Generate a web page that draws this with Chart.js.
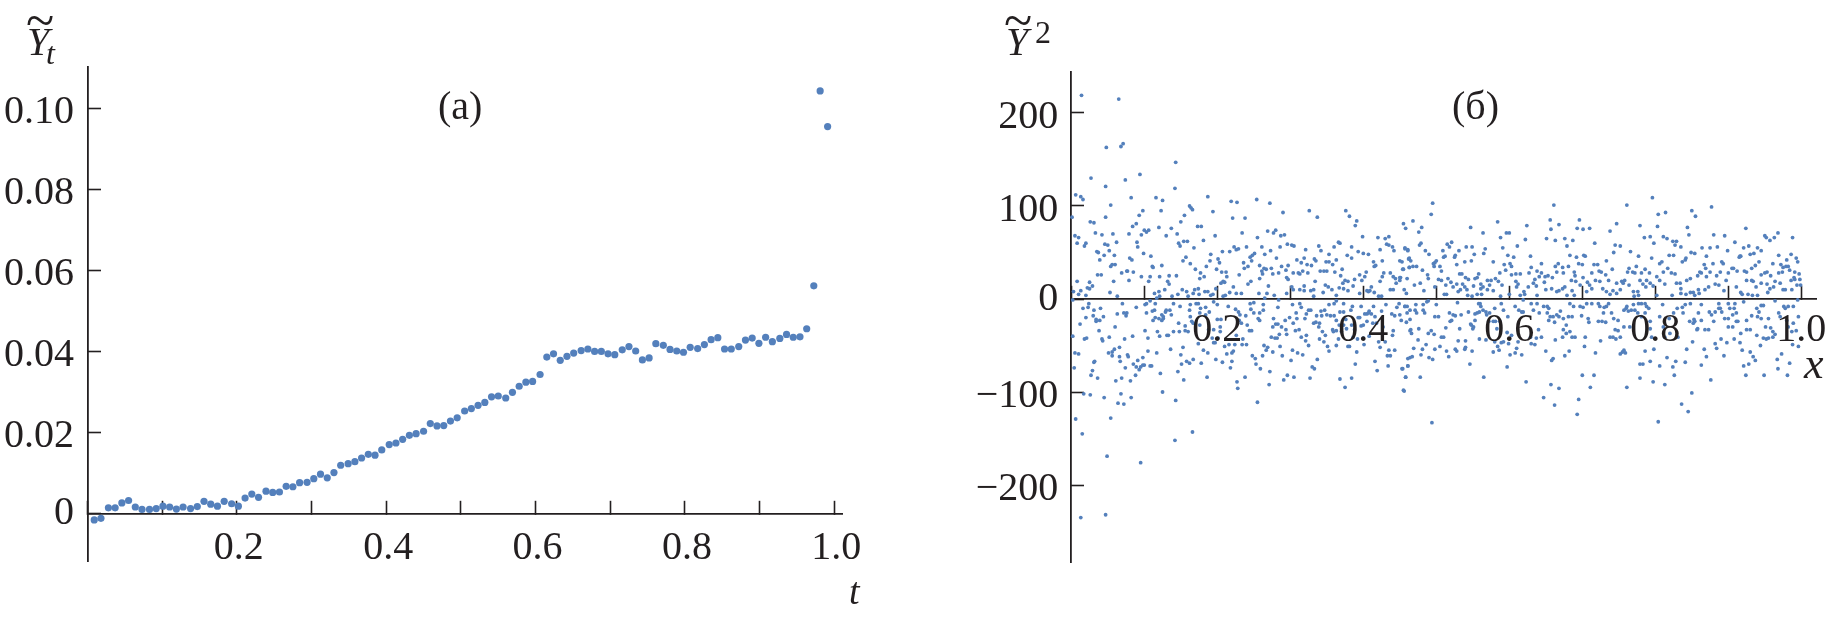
<!DOCTYPE html>
<html>
<head>
<meta charset="utf-8">
<title>Y tilde charts</title>
<script src="https://cdn.jsdelivr.net/npm/chart.js@4"></script>
<style>
    html, body { margin: 0; padding: 0; background: #fff; }
    canvas { position: absolute; top: 0; }
</style>
</head>
<body>
<canvas id="panelA" style="left:0"></canvas>
<canvas id="panelB" style="left:950px"></canvas>
<script>
// panel (a) values
var trendT = [.009,.018,.028,.037,.046,.055,.064,.073,.083,.092,.101,.110,.119,.128,.138,.147,.156,.165,.174,.183,.193,.202,.211,.220,.229,.239,.248,.257,.266,.275,.284,.294,.303,.312,.321,.330,.339,.349,.358,.367,.376,.385,.394,.404,.413,.422,.431,.440,.450,.459,.468,.477,.486,.495,.505,.514,.523,.532,.541,.550,.560,.569,.578,.587,.596,.606,.615,.624,.633,.642,.651,.661,.670,.679,.688,.697,.706,.716,.725,.734,.743,.752,.761,.771,.780,.789,.798,.807,.817,.826,.835,.844,.853,.862,.872,.881,.890,.899,.908,.917,.927,.936,.945,.954,.963,.9725,.981,.991];
var trendY = [-.0016,-.0012,.0014,.0014,.0026,.0032,.0016,.0010,.0010,.0012,.0018,.0016,.0011,.0016,.0012,.0017,.0030,.0023,.0018,.0030,.0024,.0018,.0038,.0048,.0040,.0055,.0052,.0053,.0067,.0066,.0076,.0077,.0086,.0097,.0088,.0101,.0119,.0123,.0128,.0137,.0146,.0144,.0157,.0170,.0174,.0183,.0193,.0197,.0203,.0222,.0216,.0217,.0228,.0236,
    .0253,.0259,.0267,.0274,.0288,.0290,.0285,.0299,.0314,.0324,.0326,.0343,.0386,.0394,.0378,.0388,.0396,.0402,.0406,.0400,.0400,.0394,.0392,.0404,.0412,.0401,.0379,.0384,.0419,.0415,.0405,.0401,.0398,.0410,.0407,.0417,.0429,.0434,.0406,.0406,.0412,.0428,.0433,.0420,.0435,.0424,.0432,.0442,.0435,.0436,.0456,.0562,.1043,.0955];

// panel (b) points as [x, y], estimated by eye, split by part of the plot
var scatterLeftUpper = [[.014,219],[.065,215],[.048,163],[.068,164],[.071,167],[.143,147],[.142,119],[.027,130],[.047,121],[.094,134],[.074,128],[.006,112],[.013,110],[.016,107],[.054,101],[.047,88],[.026,83],[.031,82],[.033,71],[.042,69],[.057,70],[.005,68],[.010,66],[.008,60],[.020,60],[.018,57],[.001,88],[.046,59],[.050,58],[.062,61],[.052,52],[.035,51],[.037,50],[.045,47],[.059,47],[.039,42],[.054,35],[.056,37],[.060,37],[.069,28],[.076,30],[.077,30],[.085,29],[.079,20],[.036,26],[.041,26],[.008,19],[.025,18],[.058,19],[.029,14],[.022,12],[.025,11],[.003,8],[.013,9],[.010,5],[.020,4],[.053,7],[.063,3],
    [.082,109],[.098,95],[.093,90],[.089,81],[.084,78],[.079,70],[.100,74],[.103,72],[.106,74],[.096,69],[.090,61],[.091,56],[.099,49],[.109,46],[.080,44],[.083,42],[.096,24],[.108,24],[.106,19],[.111,35],[.112,34],[.116,109],[.125,106],[.123,95],[.120,77],[.137,76],[.130,68],[.145,70],[.150,83],[.155,90],[.162,100],[.164,98],[.166,96],[.187,110],[.194,94],[.173,78],[.178,78],[.181,63],[.197,68],[.168,55],[.147,60],[.154,62],[.159,62],[.149,57],[.191,48],[.190,41],[.157,45],[.153,41],[.163,38],[.170,32],[.185,35],[.124,36],[.177,28],[.176,22],[.182,24],[.199,32],[.206,29],[.121,24],[.134,25],[.132,19],[.144,25],[.134,16],[.114,6],[.120,8],[.128,10],[.117,1],[.146,5],[.152,10],[.158,8],[.160,3],[.138,3],[.169,10],[.174,11],[.175,5],[.183,8],[.187,8],[.191,4],[.194,5],[.198,11],
    [.219,105],[.227,104],[.254,107],[.272,103],[.290,93],[.326,95],[.337,88],[.376,95],[.381,89],[.391,84],[.389,79],[.455,81],[.458,76],[.221,87],[.238,87],[.234,71],[.255,66],[.269,73],[.277,71],[.280,74],[.287,68],[.292,69],[.399,67],[.420,66],[.430,65],[.435,67],[.296,59],[.302,58],[.305,57],[.321,53],[.339,57],[.342,52],[.360,56],[.366,61],[.368,60],[.384,56],[.393,51],[.400,49],[.407,48],[.423,53],[.432,59],[.435,58],[.440,56],[.442,52],[.457,54],[.461,53],[.207,51],[.217,51],[.223,56],[.226,53],[.229,54],[.240,56],[.261,56],[.265,48],[.273,52],[.286,56],[.251,49],[.248,47],[.245,45],
    [.201,43],[.203,39],[.236,39],[.242,35],[.237,33],[.247,41],[.281,44],[.309,42],[.319,44],[.333,43],[.335,41],[.353,48],[.363,42],[.378,47],[.384,44],[.414,40],[.417,36],[.426,41],[.453,40],[.462,43],[.258,36],[.261,30],[.264,33],[.267,32],[.274,33],[.288,35],[.297,36],[.323,37],[.329,36],[.315,39],[.349,40],[.353,40],[.358,37],[.341,30],[.346,30],[.350,30],[.361,29],[.371,32],[.415,35],[.455,32],[.463,34],[.212,29],[.213,24],[.230,26],[.262,27],[.276,27],[.284,28],[.294,31],[.304,28],[.311,28],[.313,27],[.317,30],[.324,28],[.369,25],[.404,29],[.395,26],[.437,28],[.441,24],[.444,22],[.451,23],[.428,28],
    [.205,17],[.208,19],[.210,18],[.222,13],[.242,16],[.246,19],[.258,22],[.295,23],[.297,21],[.319,14],[.334,19],[.348,15],[.352,13],[.357,10],[.367,12],[.372,17],[.375,20],[.379,19],[.373,11],[.379,9],[.386,14],[.388,21],[.398,20],[.402,24],[.423,19],[.426,24],[.450,20],[.445,17],[.208,3],[.211,4],[.217,7],[.233,6],[.257,6],[.268,6],[.270,14],[.278,4],[.265,1],[.319,9],[.328,9],[.332,10],[.332,3],[.345,7],[.407,8],[.411,13],[.405,9],[.409,9],[.415,7],[.421,3],[.425,3],[.441,10],[.456,10],[.302,13],[.304,10],
    [.313,10],[.395,6],[.437,10],[.459,6],[.363,4],[.295,6],[.121,3],[.167,6],[.226,6]];

var scatterLeftLower = [[.013,-235],[.047,-232],[.095,-176],[.049,-169],[.142,-152],[.166,-143],[.015,-145],[.006,-129],[.054,-128],[.143,-109],[.255,-111],[.017,-102],[.026,-103],[.045,-106],[.068,-102],[.082,-106],[.064,-112],[.072,-113],[.125,-100],[.228,-96],[.227,-89],[.271,-92],[.291,-87],[.296,-82],[.305,-84],[.327,-85],[.368,-86],[.375,-95],[.384,-85],[.455,-98],[.458,-84],[.453,-75],[.461,-72],[.238,-84],[.186,-84],[.154,-87],[.146,-78],[.122,-80],[.027,-82],[.029,-77],[.036,-85],[.061,-88],[.069,-85],[.081,-88],[.088,-82],[.004,-74],[.031,-68],[.032,-67],
    [.002,-1],[.016,-10],[.023,-9],[.040,-10],[.031,-12],[.024,-5],[.020,-20],[.030,-18],[.044,-19],[.034,-24],[.039,-23],[.034,-22],[.012,-27],[.063,-16],[.070,-5],[.072,-15],[.075,-18],[.076,-15],[.060,-30],[.038,-34],[.002,-40],[.021,-42],[.018,-43],[.052,-41],[.042,-43],[.043,-45],[.073,-43],[.084,-40],[.005,-58],[.010,-59],[.051,-58],[.059,-54],[.066,-52],[.056,-57],[.056,-61],[.066,-62],[.067,-67],[.077,-60],[.078,-62],[.098,-63],[.105,-56],[.117,-58],[.101,-34],[.105,-42],[.118,-35],[.121,-40],[.131,-39],[.133,-39],[.074,-74],[.085,-70],[.091,-66],[.089,-73],[.093,-76],[.095,-73],[.098,-71],[.100,-71],[.108,-72],[.110,-72],
    [.089,-9],[.101,-6],[.103,-5],[.108,-2],[.115,-5],[.103,-15],[.111,-13],[.114,-12],[.124,-17],[.130,-12],[.129,-14],[.126,-19],[.135,-12],[.137,-17],[.140,-5],[.112,-23],[.115,-20],[.120,-21],[.124,-23],[.126,-21],[.147,-26],[.156,-29],[.163,-19],[.165,-24],[.140,-35],[.148,-35],[.156,-34],[.160,-35],[.136,-54],[.153,-52],[.150,-60],[.151,-70],[.158,-67],[.162,-69],[.167,-65],[.178,-69],[.174,-48],[.181,-55],[.187,-58],[.198,-65],[.207,-68],[.218,-74],[.220,-67],[.193,-42],[.195,-47],[.197,-47],[.201,-42],[.200,-22],[.205,-22],[.195,-33],[.204,-30],[.204,-35],[.162,-12],[.171,-5],[.174,-5],[.177,-10],[.184,-9],[.189,-14],[.195,-3],[.200,-6],[.167,-26],[.176,-28],[.188,-33],
    [.210,-51],[.216,-49],[.224,-49],[.220,-58],[.222,-56],[.213,-59],[.234,-49],[.240,-49],[.235,-43],[.226,-39],[.215,-8],[.225,-11],[.229,-14],[.231,-17],[.239,-18],[.230,-23],[.233,-26],[.241,-28],[.244,-34],[.247,-34],[.245,-5],[.250,-4],[.246,-11],[.250,-15],[.256,-21],[.258,-23],[.263,-6],[.263,-12],[.248,-61],[.252,-64],[.253,-70],[.259,-75],[.262,-61],[.267,-55],[.264,-50],[.269,-52],[.276,-57],[.272,-78],[.286,-51],[.289,-61],[.301,-66],[.303,-55],[.310,-58],[.317,-60],[.325,-50],[.337,-65],[.330,-73],[.333,-75],[.274,-41],[.279,-42],[.282,-42],[.285,-38],[.276,-30],[.280,-27],[.283,-27],[.288,-30],[.294,-33],[.295,-38],[.277,-21],[.293,-23],[.299,-20],[.308,-15],[.309,-21],[.320,-21],[.283,-9],[.284,-1],[.303,-6],[.313,-5],[.315,-9],[.325,-12],[.328,-12],[.322,-16],[.307,-34],[.312,-33],[.315,-41],[.322,-39],[.321,-45],
    [.336,-18],[.343,-18],[.342,-13],[.335,-25],[.340,-26],[.339,-30],[.344,-35],[.348,-39],[.340,-43],[.346,-46],[.351,-51],[.353,-56],[.363,-50],[.350,-17],[.355,-18],[.360,-18],[.353,-6],[.360,-5],[.363,-2],[.368,-14],[.373,-14],[.376,-22],[.367,-28],[.373,-28],[.377,-32],[.358,-33],[.359,-35],[.363,-34],[.370,-35],[.366,-43],[.379,-51],[.381,-51],[.391,-57],[.389,-70],[.392,-43],[.400,-42],[.408,-40],[.401,-49],[.383,-12],[.385,-8],[.397,-8],[.393,-20],[.395,-20],[.384,-28],[.397,-29],[.400,-28],[.388,-33],[.402,-16],[.405,-16],[.408,-13],[.414,-8],[.411,-16],[.407,-15],[.405,-24],[.413,-26],[.418,-26],[.416,-19],[.425,-13],[.431,-6],[.439,-16],[.446,-9],[.449,-5],[.443,-18],[.452,-23],[.459,-25],[.441,-34],[.440,-39],[.464,-34],[.416,-67],[.419,-77],[.434,-72],[.423,-52],[.430,-46],[.433,-61],[.437,-61],[.435,-55],[.443,-55],[.421,-46],[.461,-64],
    [.176,-15],[.184,-17],[.163,-6],[.149,-8],[.258,-15],[.347,-12],[.373,-5],[.304,-26],[.332,-26],[.363,-23],[.427,-30],[.457,-8],[.464,-12],[.386,-41]];

var scatterRightUpper = [[.495,103],[.493,91],[.468,84],[.480,77],[.476,72],[.477,58],[.479,60],[.457,55],[.461,52],[.485,52],[.490,48],[.509,52],[.515,59],[.518,56],[.521,61],[.525,45],[.526,47],[.531,52],[.541,56],[.549,56],[.552,48],[.547,77],[.564,71],[.584,83],[.588,66],[.591,55],[.596,71],[.600,71],[.567,54],[.565,49],[.598,47],[.606,45],[.611,57],[.622,64],[.624,79],[.629,46],[.661,101],[.656,85],[.657,75],[.668,80],[.663,63],[.651,65],[.676,65],[.679,57],[.687,63],[.683,47],[.692,45],[.702,47],[.704,46],[.696,85],[.693,76],[.701,75],[.710,76],[.717,60],[.761,101],[.747,81],[.738,73],[.779,79],[.796,109],[.804,91],[.814,93],[.803,78],[.785,66],[.793,67],[.798,60],[.743,50],[.745,58],[.752,57],[.766,51],[.811,67],[.816,65],[.824,62],[.829,62],[.827,58],[.835,56],[.850,95],[.855,89],[.844,77],[.846,69],[.877,99],[.880,69],[.895,68],[.909,61],[.849,50],[.854,49],[.864,55],[.875,55],[.885,56],[.870,46],[.899,52],[.924,76],[.950,68],[.952,66],[.957,63],[.963,66],[.968,71],[.988,66],[.921,55],[.928,57],[.940,55],[.945,52],[.930,48],[.935,49],[.916,46],[.915,45],[.969,47],[.986,48],[.980,42],[.993,44],[.995,40],
    [.450,41],[.463,44],[.465,41],[.454,32],[.463,34],[.468,35],[.473,35],[.481,31],[.488,26],[.489,22],[.496,38],[.498,39],[.500,41],[.497,35],[.505,35],[.507,30],[.510,45],[.512,46],[.450,23],[.470,15],[.483,9],[.503,21],[.507,20],[.516,22],[.520,18],[.513,15],[.514,5],[.511,5],[.528,37],[.539,40],[.548,41],[.532,27],[.535,27],[.540,23],[.544,21],[.528,16],[.536,16],[.551,14],[.558,27],[.556,23],[.553,22],[.561,16],[.561,11],[.533,10],[.543,4],[.542,10],[.549,3],[.556,5],[.562,5],[.570,20],[.575,20],[.581,22],[.587,28],[.578,40],[.573,15],[.570,10],[.578,9],[.593,37],[.601,38],[.603,35],[.595,31],[.603,26],[.609,27],[.615,27],[.609,19],[.612,16],[.590,15],[.600,5],[.620,8],[.621,5],
    [.627,28],[.630,34],[.638,30],[.644,38],[.644,28],[.649,24],[.641,24],[.635,21],[.633,17],[.637,14],[.648,18],[.650,10],[.638,4],[.653,25],[.659,23],[.663,35],[.667,38],[.673,34],[.665,29],[.681,35],[.674,28],[.690,25],[.689,29],[.701,23],[.695,38],[.700,37],[.685,20],[.691,19],[.676,13],[.673,11],[.668,9],[.665,8],[.686,9],[.689,4],[.707,18],[.710,15],[.713,11],[.706,8],[.716,37],[.721,37],[.713,28],[.723,30],[.726,29],[.718,20],[.733,41],[.741,32],[.732,26],[.728,11],[.733,8],[.738,5],[.742,9],[.747,6],[.752,10],[.754,19],[.756,17],[.764,15],[.762,29],[.764,33],[.769,29],[.774,35],[.777,46],[.772,28],[.781,28],[.786,32],[.792,28],[.770,8],[.776,8],[.777,4],[.771,3],
    [.795,44],[.806,38],[.809,40],[.817,33],[.822,28],[.827,27],[.819,47],[.825,47],[.806,20],[.813,16],[.788,20],[.783,16],[.787,13],[.797,14],[.802,4],[.837,40],[.841,42],[.842,44],[.834,17],[.835,11],[.848,22],[.823,4],[.835,6],[.842,5],[.848,7],[.852,7],[.858,25],[.861,29],[.870,24],[.867,37],[.869,33],[.875,29],[.879,38],[.891,40],[.893,38],[.882,16],[.887,15],[.884,25],[.860,6],[.859,10],[.868,10],[.894,9],[.897,20],[.905,33],[.907,33],[.912,30],[.917,46],[.922,30],[.925,29],[.932,33],[.937,36],[.942,40],[.945,26],[.950,28],[.953,29],[.958,25],[.932,20],[.934,19],[.938,13],[.953,16],[.957,11],[.954,7],[.917,7],[.919,5],[.927,5],[.933,4],[.940,4],[.961,38],[.972,37],[.974,29],[.979,35],[.982,35],[.984,31],[.975,34],[.969,28],[.986,20],[.990,23],[.991,21],[.997,27],[.998,21],[.962,13],[.975,10],[.978,10],[.987,10],[.999,15],[.994,15],
    [.460,22],[.478,17],[.498,13],[.523,13],[.530,8],[.539,13],[.564,13],[.585,19],[.588,3],[.610,13],[.615,4],[.626,13],[.658,11],[.679,4],[.697,15],[.724,19],[.736,20],[.747,17],[.758,20],[.779,20],[.793,17],[.802,24],[.811,29],[.829,17],[.843,20],[.854,4],[.863,28],[.873,13],[.889,29],[.900,28],[.911,13],[.925,20],[.945,17],[.964,19],[.971,17],[.991,29]];

var scatterRightLower = [[.494,-133],[.804,-132],[.845,-121],[.836,-113],[.850,-101],[.693,-124],[.695,-108],[.662,-114],[.647,-106],[.657,-92],[.668,-96],[.711,-95],[.700,-82],[.716,-82],[.456,-99],[.458,-84],[.478,-84],[.565,-84],[.623,-89],[.597,-73],[.546,-70],[.761,-95],[.779,-85],[.797,-89],[.813,-92],[.826,-82],[.876,-87],[.924,-82],[.949,-82],[.968,-75],[.981,-82],[.984,-69],[.973,-59],[.967,-65],
    [.454,-75],[.461,-72],[.464,-63],[.467,-62],[.479,-60],[.490,-63],[.495,-65],[.469,-53],[.481,-54],[.486,-49],[.498,-54],[.505,-51],[.514,-56],[.526,-54],[.528,-56],[.517,-62],[.539,-54],[.540,-52],[.549,-56],[.530,-45],[.540,-45],[.475,-44],[.489,-37],[.493,-34],[.497,-38],[.465,-33],[.476,-32],[.466,-37],[.507,-41],[.510,-41],[.513,-31],[.519,-24],[.521,-23],[.518,-15],[.523,-17],[.532,-32],[.526,-18],[.534,-17],[.547,-27],[.551,-30],[.553,-23],[.556,-15],[.544,-14],[.561,-8],[.564,-12],[.560,-5],[.568,-14],[.553,-16],
    [.559,-43],[.568,-44],[.580,-46],[.572,-24],[.578,-24],[.581,-24],[.573,-15],[.583,-32],[.587,-24],[.592,-12],[.597,-36],[.612,-46],[.603,-39],[.589,-47],[.592,-46],[.599,-48],[.584,-51],[.578,-57],[.586,-55],[.601,-60],[.608,-58],[.617,-60],[.610,-53],[.629,-41],[.635,-49],[.630,-48],[.640,-33],[.644,-41],[.637,-42],[.650,-56],[.663,-44],[.673,-41],[.678,-37],[.683,-35],[.682,-56],[.686,-41],[.690,-41],[.676,-61],[.703,-51],[.704,-41],[.718,-58],[.725,-45],[.660,-64],[.658,-66],
    [.617,-14],[.619,-1],[.630,-5],[.638,-5],[.652,-8],[.654,-10],[.641,-15],[.652,-15],[.656,-19],[.660,-19],[.670,-13],[.665,-17],[.662,-25],[.674,-21],[.678,-28],[.686,-19],[.683,-5],[.688,-8],[.697,-8],[.701,-9],[.699,-18],[.708,-21],[.709,-25],[.713,-5],[.722,-5],[.730,-9],[.733,-8],[.729,-15],[.740,-15],[.743,-21],[.722,-24],[.727,-24],[.732,-25],[.745,-33],[.749,-34],[.738,-41],[.742,-41],[.746,-43],[.752,-41],[.757,-55],[.755,-57],[.759,-58],[.752,-59],[.760,-10],[.763,-13],[.767,-12],[.772,-12],[.770,-6],[.777,-5],[.781,-5],[.786,-5],[.791,-10],[.788,-8],
    [.786,-56],[.798,-54],[.779,-70],[.783,-70],[.793,-67],[.806,-72],[.816,-63],[.824,-73],[.828,-67],[.841,-68],[.843,-54],[.851,-46],[.863,-71],[.867,-54],[.870,-62],[.884,-53],[.882,-48],[.890,-43],[.894,-61],[.898,-47],[.908,-43],[.916,-47],[.919,-55],[.930,-57],[.934,-62],[.937,-66],[.921,-72],[.928,-70],[.939,-39],[.944,-50],[.948,-42],[.952,-43],[.955,-42],[.958,-31],[.961,-35],[.964,-38],[.951,-30],[.988,-49],[.996,-51],[.989,-26],[.993,-34],[.987,-35],[.969,-15],[.976,-8],[.978,-10],[.989,-8],[.995,-1],[.964,-2],[.945,-7],[.948,-7],[.939,-10],[.942,-14],[.932,-18],[.925,-33],[.930,-33],[.917,-37],[.913,-24],[.906,-30],[.900,-30],[.895,-21],[.906,-17],[.911,-15],[.902,-10],[.908,-10],[.900,-5],[.909,-5],[.891,-14],[.887,-5],[.882,-14],[.874,-14],[.877,-17],[.880,-24],[.873,-33],[.868,-33],[.859,-15],[.854,-24],[.853,-22],[.857,-33],[.847,-24],[.863,-6],[.841,-6],[.837,-9],[.830,-10],[.825,-15],[.819,-21],[.811,-30],[.810,-6],[.806,-19],[.793,-24],[.786,-15],[.765,-30],[.757,-12],
    [.460,-15],[.473,-15],[.482,-6],[.487,-3],[.500,-6],[.503,-19],[.498,-19],[.484,-15],[.450,-17],[.460,-8],[.471,-12],
    [.457,-8],[.464,-22],[.472,-6],[.482,-12],[.489,-2],[.529,-4],[.548,-28],[.550,-32],[.558,-5],[.559,-14],[.569,-17],[.580,-10],[.589,-5],[.598,-19],[.608,-8],[.613,-12],[.619,-14],[.633,-12],[.647,-8],[.654,-23],[.668,-19],[.674,-33],[.681,-19],[.706,-5],[.724,-8],[.736,-5],[.749,-23],[.757,-30],[.761,-8],[.776,-15],[.781,-19],[.793,-32],[.795,-41],[.813,-41],[.820,-37],[.831,-41],[.838,-15],[.848,-5],[.852,-26],[.858,-32],[.863,-23],[.887,-10],[.889,-10],[.900,-21],[.911,-24],[.921,-3],[.925,-23],[.940,-19],[.945,-21],[.955,-21],[.961,-41],[.971,-19],[.980,-23],[.982,-30],[.996,-19],[.982,-8]];

// axis ticks and their labels
var trendXTicks = [.2, .4, .6, .8, 1];
var trendXLabels = ['0.2', '0.4', '0.6', '0.8', '1.0'];
var trendYTicks = [0, .02, .04, .06, .08, .1];
var trendYLabels = ['0', '0.02', '0.04', '0.06', '0.08', '0.10'];
var scatterXTicks = [.2, .4, .6, .8, 1];
var scatterXLabels = ['0.2', '0.4', '0.6', '0.8', '1.0'];
var scatterYTicks = [-200, -100, 0, 100, 200];
var scatterYLabels = ['\u2212200', '\u2212100', '0', '100', '200'];

var inkColor = '#231f20';
var dotColor = '#5480bc';
var serif = '"Liberation Serif", "Times New Roman", serif';

// Chart.js puts labels right on the axis when it is positioned at a value,
// so the tick labels and the little titles are drawn here instead
function textPlugin(cfg) {
    return {
        id: 'panelText',
        afterDraw: function(chart) {
            var ctx = chart.ctx;
            ctx.save();
            ctx.fillStyle = inkColor;
            ctx.textBaseline = 'alphabetic';
            ctx.font = '40px ' + serif;
            ctx.textAlign = 'center';
            cfg.xTicks.forEach(function(v, i) {
                ctx.fillText(cfg.xLabels[i], chart.scales.x.getPixelForValue(v) + cfg.xShift, cfg.xBaseline);
            });
            ctx.textAlign = 'right';
            cfg.yTicks.forEach(function(v, i) {
                var lift = v === 0 ? 10.5 : 15;
                ctx.fillText(cfg.yLabels[i], cfg.yRight, chart.scales.y.getPixelForValue(v) + lift);
            });
            ctx.textAlign = 'left';
            cfg.notes.forEach(function(n) {
                ctx.font = n.font + ' ' + serif;
                ctx.fillText(n.text, n.x, n.y);
            });
            ctx.restore();
        }
    };
}

function makePanel(id, width, cfg) {
    var canvas = document.getElementById(id);
    canvas.width = width;
    canvas.height = 617;
    return new Chart(canvas.getContext('2d'), {
        type: 'scatter',
        data: {
            datasets: [{
                data: cfg.points,
                pointRadius: cfg.radius,
                pointBorderWidth: 0,
                pointBackgroundColor: dotColor,
                showLine: false,
                clip: false
            }]
        },
        options: {
            responsive: false,
            animation: false,
            layout: { padding: cfg.padding },
            plugins: { legend: { display: false }, tooltip: { enabled: false } },
            scales: {
                x: {
                    type: 'linear',
                    min: cfg.xRange[0],
                    max: cfg.xRange[1],
                    position: { y: 0 },
                    border: { display: true, color: inkColor, width: 1.8 },
                    grid: { drawOnChartArea: false, drawTicks: true, tickLength: -14, tickColor: inkColor, tickWidth: 1.6 },
                    ticks: { display: false, stepSize: .1, includeBounds: false, autoSkip: false }
                },
                y: {
                    type: 'linear',
                    min: cfg.yRange[0],
                    max: cfg.yRange[1],
                    position: { x: 0 },
                    border: { display: true, color: inkColor, width: 1.8 },
                    grid: { drawOnChartArea: false, drawTicks: true, tickLength: -14, tickColor: inkColor, tickWidth: 1.6 },
                    ticks: { display: false, stepSize: cfg.yStep, includeBounds: false, autoSkip: false }
                }
            }
        },
        plugins: [textPlugin(cfg)]
    });
}

function toPoint(p) {
    return { x: p[0], y: p[1] };
}

document.addEventListener('DOMContentLoaded', function() {
    makePanel('panelA', 950, {
        points: trendT.map(function(t, i) { return { x: t, y: trendY[i] }; }),
        radius: 3.6,
        padding: { left: 87.5, right: 107.3, top: 67, bottom: 55.3 },
        xRange: [0, 1.0112],
        yRange: [-.0119, .1102],
        yStep: .02,
        xTicks: trendXTicks, xLabels: trendXLabels,
        yTicks: trendYTicks, yLabels: trendYLabels,
        xShift: 2, xBaseline: 559, yRight: 74,
        notes: [
            { text: '~', font: '52px', x: 26, y: 38 },
            { text: 'Y', font: 'italic 40px', x: 27, y: 55 },
            { text: 't', font: 'italic 32px', x: 46, y: 64 },
            { text: '(а)', font: '40px', x: 438, y: 119 },
            { text: 't', font: 'italic 38px', x: 849, y: 604 }
        ]
    });

    var scatterPoints = scatterLeftUpper.concat(scatterLeftLower, scatterRightUpper, scatterRightLower).map(toPoint);
    makePanel('panelB', 876, {
        points: scatterPoints,
        radius: 1.9,
        padding: { left: 121.3, right: 10, top: 71.7, bottom: 54.7 },
        xRange: [0, 1.0201],
        yRange: [-283.1, 244.4],
        yStep: 100,
        xTicks: scatterXTicks, xLabels: scatterXLabels,
        yTicks: scatterYTicks, yLabels: scatterYLabels,
        xShift: 0, xBaseline: 340.7, yRight: 108.3,
        notes: [
            { text: '~', font: '52px', x: 54, y: 38 },
            { text: 'Y', font: 'italic 40px', x: 56, y: 55 },
            { text: '2', font: '32px', x: 85, y: 43 },
            { text: '(б)', font: '40px', x: 502, y: 119 },
            { text: 'x', font: 'italic 44px', x: 854, y: 378 }
        ]
    });
});
</script>
</body>
</html>
